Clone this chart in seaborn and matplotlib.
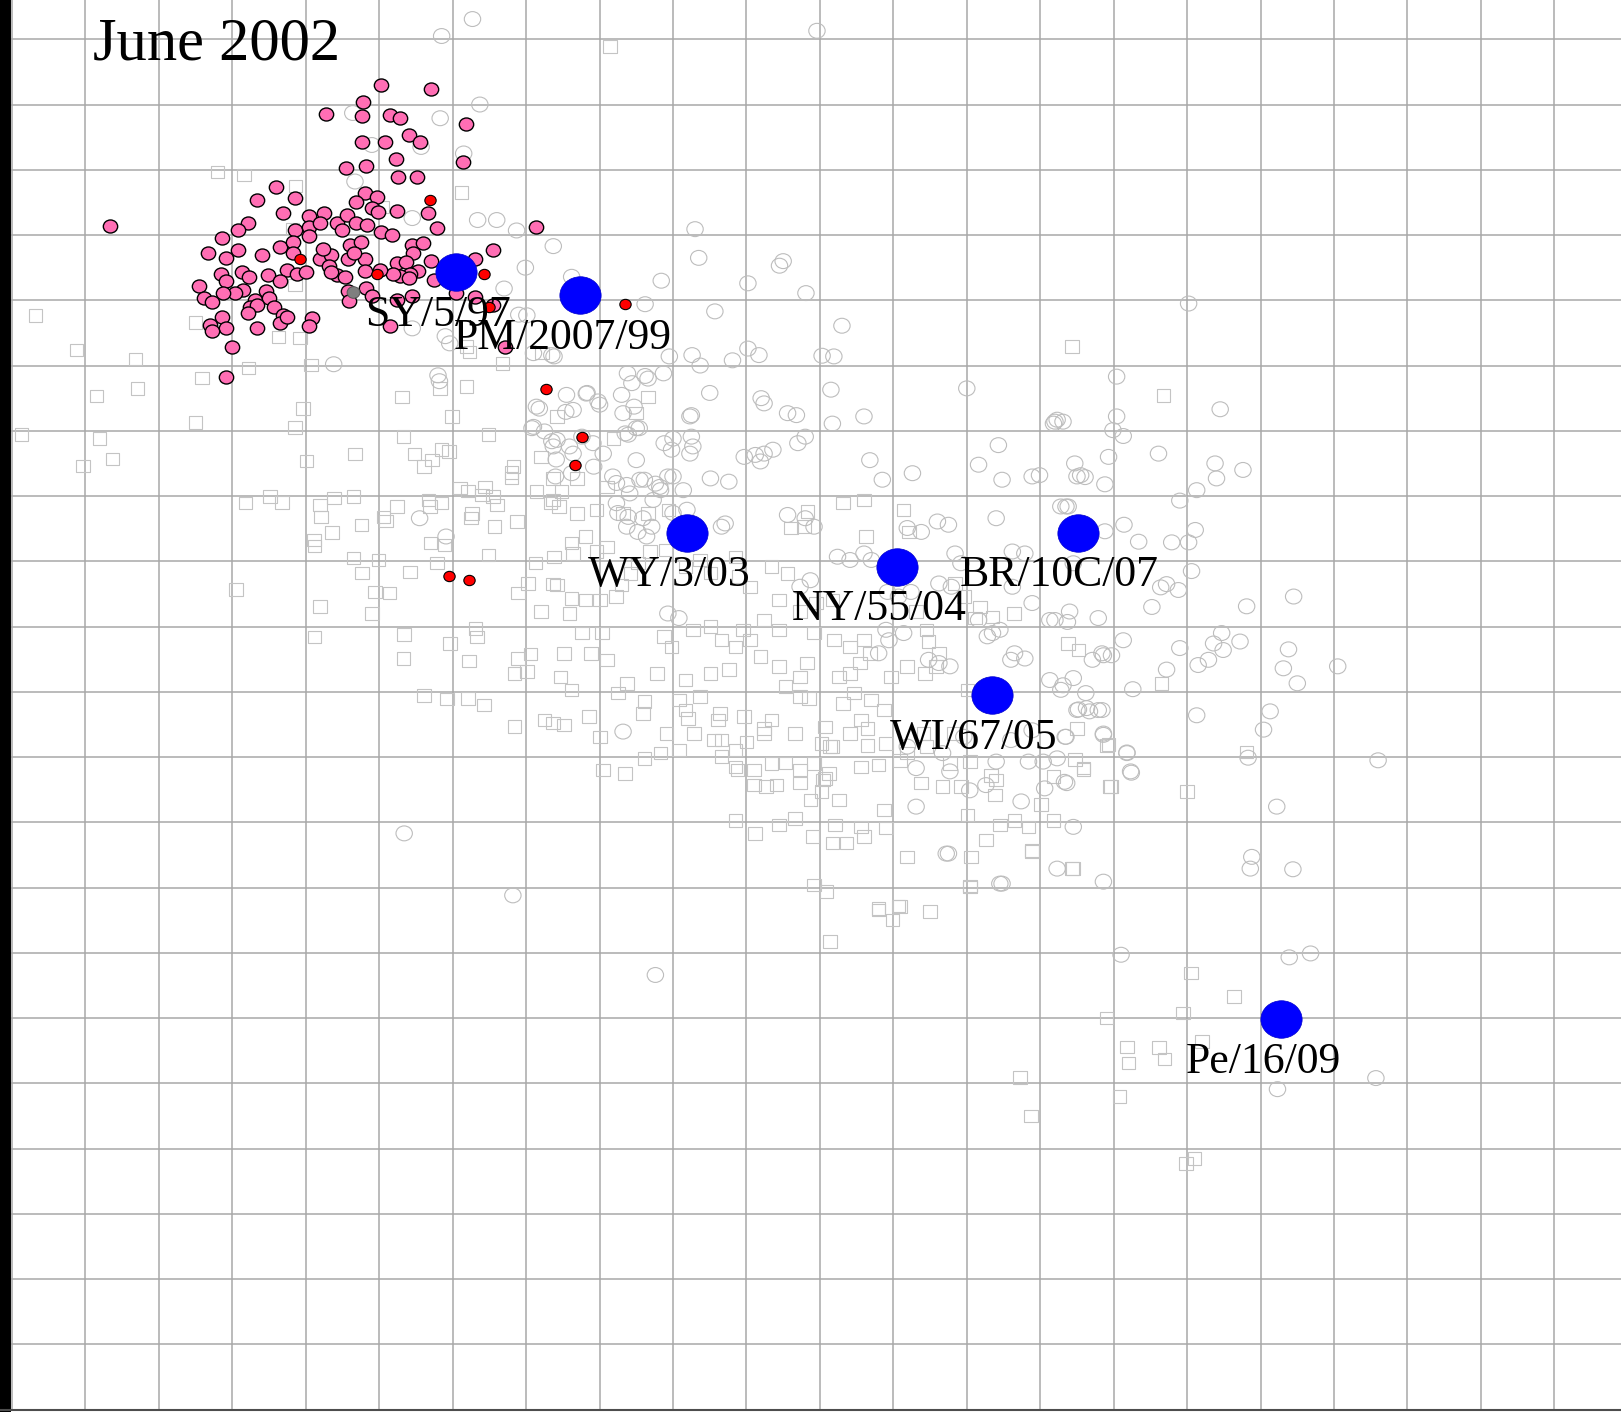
import matplotlib
matplotlib.use("Agg")
import matplotlib.pyplot as plt
from matplotlib.markers import MarkerStyle
from matplotlib.transforms import Affine2D
import numpy as np
import pandas as pd
import seaborn as sns

# map coordinates in antigenic units (one grid cell = one unit), y grows downwards
vaccine_names = ["SY/5/97", "PM/2007/99", "WY/3/03", "NY/55/04", "BR/10C/07", "WI/67/05", "Pe/16/09"]
vaccine_x = [5.05, 6.74, 8.19, 11.05, 13.51, 12.34, 16.28]
vaccine_y = [3.57, 3.92, 7.56, 8.08, 7.56, 10.05, 15.02]

june_antigens = [
    [4.03, 0.70], [4.71, 0.76], [3.78, 0.96], [3.28, 1.15], [3.76, 1.18], [4.15, 1.16], [4.28, 1.20],
    [5.18, 1.30], [4.41, 1.47], [4.56, 1.57], [3.76, 1.57], [4.08, 1.58], [4.23, 1.83], [5.14, 1.88],
    [3.55, 1.98], [3.82, 1.94], [4.26, 2.11], [4.51, 2.11], [2.59, 2.27], [2.34, 2.47], [2.85, 2.43],
    [3.80, 2.36], [3.97, 2.41], [3.69, 2.50], [4.24, 2.63], [4.66, 2.67], [3.90, 2.59], [3.99, 2.64],
    [2.69, 2.67], [2.22, 2.81], [2.08, 2.93], [1.86, 3.04], [3.04, 2.71], [3.25, 2.66], [3.42, 2.82],
    [3.56, 2.69], [3.68, 2.82], [3.83, 2.85], [3.50, 2.93], [2.85, 2.92], [3.04, 2.87], [3.19, 2.82],
    [4.03, 2.96], [4.17, 3.00], [4.78, 2.89], [1.67, 3.27], [1.92, 3.35], [2.08, 3.23], [2.41, 3.31],
    [2.65, 3.19], [2.83, 3.10], [3.04, 3.02], [2.83, 3.28], [3.19, 3.37], [3.35, 3.31], [3.60, 3.15],
    [3.75, 3.10], [3.58, 3.36], [3.81, 3.37], [3.65, 3.28], [3.24, 3.22], [4.44, 3.15], [4.60, 3.12],
    [4.46, 3.28], [4.71, 3.40], [4.24, 3.43], [4.37, 3.41], [4.53, 3.55], [4.42, 3.59], [4.28, 3.63],
    [4.40, 3.66], [4.19, 3.59], [4.01, 3.53], [3.80, 3.55], [5.55, 3.23], [5.30, 3.36], [1.84, 3.59],
    [2.13, 3.56], [2.23, 3.64], [2.48, 3.61], [2.74, 3.54], [2.88, 3.60], [3.01, 3.56], [3.31, 3.48],
    [3.42, 3.61], [3.53, 3.64], [3.35, 3.56], [1.55, 3.78], [1.92, 3.70], [2.15, 3.84], [2.04, 3.89],
    [2.46, 3.86], [2.65, 3.71], [1.87, 3.89], [1.62, 3.96], [1.72, 4.02], [2.31, 3.99], [2.50, 3.97],
    [2.24, 4.10], [2.57, 4.10], [2.33, 4.07], [3.57, 3.86], [3.82, 3.81], [3.90, 3.94], [3.59, 4.01],
    [4.24, 3.99], [4.44, 3.94], [4.74, 3.69], [5.05, 3.89], [5.30, 3.95], [5.55, 4.07], [1.86, 4.25],
    [1.70, 4.38], [1.92, 4.42], [1.72, 4.47], [2.22, 4.20], [2.33, 4.42], [2.69, 4.23], [2.65, 4.35],
    [2.74, 4.26], [3.08, 4.27], [3.04, 4.39], [2.00, 4.72], [4.15, 4.40], [1.92, 5.17], [5.71, 4.71],
    [0.34, 2.86], [6.13, 2.87],
]

outlier_antigens = [
    [2.92, 3.37], [4.69, 2.47], [3.97, 3.59], [5.43, 3.59], [5.49, 4.10], [7.34, 4.06],
    [6.27, 5.36], [6.76, 6.10], [6.66, 6.53], [4.95, 8.23], [5.22, 8.29],
]

grey_antigen = [[3.64, 3.87]]

other_antigens = [
    [5.27, -0.31], [4.85, -0.05], [9.96, -0.13], [5.37, 1.00], [4.83, 1.21], [5.15, 1.75], [3.64, 1.13],
    [3.90, 1.62], [4.57, 1.65], [3.67, 2.18], [4.45, 2.74], [5.34, 2.77], [5.60, 2.77], [5.87, 2.93],
    [6.37, 3.17], [5.99, 3.50], [5.70, 3.82], [5.90, 4.22], [6.62, 3.64], [7.62, 4.06], [7.84, 3.70],
    [8.30, 2.91], [8.35, 3.35], [9.02, 3.74], [9.45, 3.47], [9.50, 3.40], [9.81, 3.89], [8.57, 4.17],
    [10.30, 4.39], [6.38, 4.86], [7.95, 4.86], [8.26, 4.84], [8.37, 5.00], [8.81, 4.92], [9.02, 4.74],
    [9.17, 4.84], [10.03, 4.85], [10.19, 4.86], [7.38, 5.12], [7.62, 5.16], [7.87, 5.12], [7.66, 5.20],
    [4.80, 5.15], [4.82, 5.24], [8.50, 5.42], [9.20, 5.50], [10.15, 5.37], [12.00, 5.35], [14.04, 5.17],
    [6.83, 5.42], [15.02, 4.05], [15.45, 5.67], [14.04, 5.78], [6.14, 5.63], [6.55, 5.45], [6.82, 5.43],
    [6.98, 5.55], [7.30, 5.45], [8.23, 5.78], [8.00, 6.12], [7.50, 5.96], [7.35, 6.04], [7.05, 6.35],
    [6.37, 6.24], [6.10, 5.94], [6.92, 6.55], [7.23, 6.80], [7.73, 7.06], [6.10, 4.81], [6.64, 5.68],
    [7.44, 5.27], [7.50, 6.45], [6.64, 6.35], [7.55, 6.75], [7.82, 6.86], [8.14, 6.91], [8.00, 6.70],
    [7.41, 6.96], [8.23, 6.35], [8.19, 7.21], [7.23, 7.11], [8.00, 7.26], [3.38, 4.98], [4.55, 7.34],
    [4.91, 7.62], [6.01, 4.23], [6.35, 4.84], [6.18, 5.66], [6.08, 5.96], [6.25, 6.01], [6.35, 6.16],
    [6.41, 6.44], [4.96, 4.66], [4.45, 4.43], [4.90, 4.55], [6.54, 5.71], [7.00, 5.60], [7.32, 5.73],
    [7.47, 5.63], [8.25, 5.76], [9.56, 5.73], [9.68, 5.76], [10.60, 5.78], [9.24, 5.58], [6.42, 6.14],
    [6.91, 6.19], [7.39, 6.06], [7.54, 5.96], [7.88, 6.19], [8.25, 6.09], [8.27, 6.24], [8.97, 6.40],
    [9.12, 6.37], [9.24, 6.35], [9.36, 6.29], [9.19, 6.47], [9.70, 6.19], [9.80, 6.09], [10.17, 5.89],
    [10.68, 6.45], [10.85, 6.75], [11.26, 6.65], [12.16, 6.52], [12.43, 6.22], [12.48, 6.75],
    [12.89, 6.70], [12.99, 6.68], [13.47, 6.50], [13.55, 6.68], [13.18, 5.89], [13.23, 5.83],
    [7.18, 6.70], [7.37, 6.83], [7.61, 6.75], [7.76, 6.81], [7.93, 6.70], [7.83, 6.91], [8.51, 6.73],
    [8.76, 6.78], [7.98, 6.29], [6.40, 6.70], [6.62, 6.65], [7.25, 7.26], [7.39, 7.32], [7.59, 7.34],
    [7.71, 7.47], [7.37, 7.47], [7.52, 7.55], [7.64, 7.62], [8.66, 7.47], [8.71, 7.42], [9.56, 7.29],
    [9.80, 7.34], [9.92, 7.47], [11.19, 7.49], [11.38, 7.55], [11.60, 7.39], [11.75, 7.44],
    [12.40, 7.34], [11.84, 7.88], [11.92, 8.03], [13.28, 7.16], [13.35, 7.16], [10.24, 7.93],
    [10.41, 7.98], [10.60, 7.88], [10.70, 7.98], [9.87, 8.29], [9.73, 8.39], [12.62, 7.85],
    [12.79, 7.88], [13.45, 8.03], [12.62, 8.39], [10.92, 8.47], [11.07, 8.54], [11.24, 8.47],
    [11.62, 8.34], [11.79, 8.39], [12.16, 8.90], [12.35, 9.10], [12.45, 9.05], [12.28, 9.15],
    [12.89, 8.64], [13.13, 8.90], [13.37, 8.93], [13.79, 8.87], [13.84, 9.41], [13.71, 9.51],
    [12.65, 9.41], [12.60, 9.51], [12.79, 9.49], [13.13, 9.82], [13.28, 9.97], [13.62, 10.02],
    [13.67, 10.30], [13.84, 10.28], [12.89, 10.59], [12.60, 10.74], [11.96, 10.69], [10.90, 9.05],
    [11.14, 9.10], [10.94, 9.21], [10.80, 9.41], [7.93, 8.80], [8.08, 8.87], [11.48, 9.51],
    [11.62, 9.56], [11.77, 9.61], [7.32, 10.61], [11.67, 10.94], [11.19, 10.84], [6.59, 6.24],
    [6.76, 6.09], [13.20, 5.86], [13.31, 5.86], [13.99, 5.99], [14.13, 6.08], [14.61, 6.35],
    [13.93, 6.40], [13.50, 6.70], [13.61, 6.71], [13.88, 6.82], [15.38, 6.50], [15.40, 6.73],
    [15.76, 6.60], [15.13, 6.91], [14.90, 7.07], [13.38, 7.16], [13.88, 7.54], [14.14, 7.44],
    [14.34, 7.70], [14.79, 7.71], [15.02, 7.71], [15.11, 7.52], [15.06, 8.15], [14.64, 8.40],
    [14.72, 8.35], [14.88, 8.44], [14.52, 8.70], [15.81, 8.69], [16.45, 8.54], [13.40, 8.77],
    [13.20, 8.90], [14.13, 9.21], [14.90, 9.33], [13.86, 9.44], [13.97, 9.44], [15.15, 9.59],
    [15.29, 9.51], [15.36, 9.26], [15.49, 9.36], [15.47, 9.10], [15.72, 9.23], [14.72, 9.66],
    [14.26, 9.96], [13.45, 9.79], [13.31, 9.90], [13.52, 10.27], [13.63, 10.25], [13.79, 10.28],
    [15.13, 10.36], [16.13, 10.30], [16.04, 10.58], [16.31, 9.64], [16.38, 9.35], [16.50, 9.87],
    [17.05, 9.61], [14.18, 10.93], [14.24, 11.24], [15.83, 11.01], [17.60, 11.05], [13.36, 11.40],
    [13.86, 10.66], [13.34, 10.69], [16.22, 11.76], [11.31, 11.17], [11.77, 11.22], [11.31, 11.76],
    [11.72, 12.48], [12.04, 11.51], [12.26, 11.43], [12.74, 11.68], [13.06, 11.48], [13.33, 11.38],
    [13.45, 12.07], [13.23, 12.71], [12.48, 12.94], [13.86, 12.91], [14.10, 14.03], [7.76, 14.34],
    [14.23, 11.22], [14.18, 10.94], [13.86, 10.64], [13.50, 10.28], [13.04, 11.07], [13.23, 11.02],
    [12.84, 11.07], [12.40, 11.07], [13.35, 10.69], [11.75, 12.48], [12.45, 12.94], [15.88, 12.53],
    [15.86, 12.71], [16.44, 12.72], [16.39, 14.07], [16.68, 14.01], [16.23, 16.09], [17.57, 15.92],
    [4.34, 12.17], [5.82, 13.12],
]

other_sera = [
    [1.80, 2.03], [2.16, 2.08], [2.86, 2.25], [2.82, 2.91], [4.04, 2.57], [5.12, 2.35], [2.63, 4.56],
    [2.92, 4.58], [2.85, 3.77], [7.14, 0.11], [6.22, 4.81], [13.43, 4.71], [14.68, 5.46],
    [-0.68, 4.23], [-0.12, 4.76], [0.68, 4.90], [0.15, 5.47], [0.71, 5.35], [-0.87, 6.06], [0.19, 6.12],
    [0.37, 6.43], [-0.03, 6.54], [1.50, 5.87], [1.59, 5.19], [1.50, 4.34], [2.22, 5.04], [2.96, 5.66],
    [2.85, 5.95], [3.07, 4.99], [3.01, 6.46], [3.67, 6.36], [4.31, 5.48], [4.99, 5.78], [4.33, 6.09],
    [4.48, 6.36], [4.72, 6.45], [4.61, 6.55], [4.95, 6.32], [5.49, 6.06], [5.68, 4.97], [5.23, 4.79],
    [4.83, 5.35], [5.80, 6.64], [5.80, 6.72], [6.20, 6.40], [2.51, 7.01], [2.18, 7.11], [2.68, 7.10],
    [3.19, 7.14], [3.38, 7.03], [3.21, 7.32], [3.36, 7.56], [3.11, 7.67], [3.12, 7.77], [3.76, 7.44],
    [4.09, 7.38], [4.67, 7.06], [4.70, 7.72], [4.89, 7.75], [5.25, 7.34], [5.55, 7.01], [5.57, 7.47],
    [5.88, 7.39], [5.49, 7.90], [4.79, 8.03], [4.42, 8.16], [3.65, 7.95], [3.99, 7.98], [3.77, 8.18],
    [3.94, 8.47], [4.14, 8.49], [3.90, 8.80], [3.19, 8.69], [2.05, 8.43], [3.12, 9.16], [4.34, 9.12],
    [4.33, 9.49], [4.96, 9.26], [5.31, 9.03], [5.33, 9.16], [5.22, 9.53], [4.61, 10.06], [4.92, 10.11],
    [5.21, 10.10], [5.43, 10.20], [5.89, 9.49], [5.84, 9.72], [6.01, 9.69], [6.25, 10.43], [5.84, 10.53],
    [6.20, 8.77], [5.89, 8.49], [6.03, 8.34], [6.13, 8.03], [6.33, 7.11], [6.38, 7.93], [5.21, 6.92],
    [5.40, 6.98], [6.37, 8.35], [6.06, 9.42], [6.37, 6.73], [5.44, 6.86], [4.85, 6.29], [5.19, 5.32],
    [5.19, 4.71], [6.42, 5.78], [5.83, 6.55], [6.14, 6.93], [6.48, 6.93], [6.69, 6.73], [7.10, 6.86],
    [5.10, 6.88], [4.69, 7.16], [4.85, 7.11], [4.24, 7.16], [3.65, 7.01], [4.06, 7.32], [5.26, 7.27],
    [5.60, 7.14], [6.69, 7.27], [6.96, 7.21], [7.32, 7.27], [7.66, 7.27], [7.94, 7.21], [7.19, 6.12],
    [7.50, 5.73], [7.66, 5.48], [6.37, 7.06], [6.45, 7.16], [6.62, 7.72], [6.64, 7.88], [6.81, 7.62],
    [6.96, 7.85], [7.10, 7.78], [6.42, 8.36], [6.62, 8.57], [6.59, 8.80], [6.81, 8.59], [7.01, 8.59],
    [7.22, 8.54], [7.30, 8.36], [7.42, 8.19], [7.52, 8.03], [7.69, 7.85], [7.90, 7.83], [8.17, 8.08],
    [8.37, 7.98], [8.51, 8.18], [8.85, 7.93], [8.90, 8.23], [9.05, 8.39], [9.34, 8.08], [9.56, 8.19],
    [9.44, 8.59], [9.73, 8.77], [9.95, 8.64], [10.17, 8.59], [9.78, 7.47], [9.61, 7.49], [9.83, 7.24],
    [10.31, 7.11], [10.60, 7.06], [10.63, 7.62], [11.14, 7.21], [11.21, 7.55], [11.84, 8.34],
    [11.96, 8.54], [12.18, 8.70], [12.11, 8.87], [12.35, 8.85], [12.64, 8.80], [11.31, 8.77],
    [11.45, 9.05], [11.48, 9.23], [11.62, 9.41], [11.58, 9.61], [11.43, 9.72], [11.19, 9.61],
    [10.97, 9.77], [10.68, 9.41], [10.55, 9.56], [10.41, 9.72], [10.41, 9.31], [10.60, 9.21],
    [10.19, 9.21], [9.92, 9.10], [9.82, 9.56], [9.73, 9.77], [9.53, 9.92], [9.44, 9.61], [9.19, 9.46],
    [9.05, 9.21], [8.85, 9.31], [8.76, 9.66], [8.51, 9.72], [8.37, 10.07], [8.17, 9.82], [8.08, 10.13],
    [7.78, 9.72], [7.61, 10.15], [7.59, 10.33], [7.25, 10.02], [7.10, 9.51], [6.88, 9.41], [7.03, 9.10],
    [6.76, 9.10], [6.52, 9.41], [6.47, 9.77], [6.62, 9.97], [6.37, 10.48], [6.52, 10.51], [6.86, 10.38],
    [7.01, 10.69], [7.37, 9.87], [7.88, 9.15], [7.98, 9.31], [8.27, 9.05], [8.51, 9.00], [8.66, 9.21],
    [8.95, 9.05], [9.24, 8.90], [9.44, 9.05], [9.73, 10.07], [9.85, 10.10], [10.26, 9.77],
    [10.31, 10.18], [10.46, 10.02], [10.70, 10.13], [10.87, 10.28], [10.65, 10.56], [10.41, 10.64],
    [10.17, 10.84], [10.02, 10.79], [9.92, 11.10], [9.73, 11.20], [10.07, 11.33], [10.02, 11.53],
    [9.87, 11.66], [9.53, 11.09], [9.34, 11.10], [9.10, 11.20], [8.85, 11.15], [8.66, 10.99],
    [8.56, 10.74], [8.29, 10.64], [8.08, 10.89], [7.83, 10.94], [7.61, 11.02], [7.35, 11.25],
    [7.05, 11.20], [8.85, 10.89], [9.24, 10.64], [9.34, 10.43], [8.97, 10.38], [8.61, 10.43],
    [8.17, 10.28], [12.01, 9.97], [11.82, 10.64], [11.41, 10.64], [11.19, 10.94], [11.45, 10.84],
    [11.77, 11.10], [11.92, 11.45], [12.40, 11.35], [13.18, 11.30], [13.47, 11.04], [7.91, 10.64],
    [8.20, 10.41], [8.64, 10.33], [8.66, 10.74], [9.00, 10.77], [9.24, 10.56], [9.66, 10.64],
    [10.07, 10.54], [10.14, 10.84], [10.56, 10.43], [10.65, 10.82], [10.90, 10.79], [11.09, 11.05],
    [10.80, 11.12], [10.56, 11.15], [10.12, 11.25], [10.04, 11.35], [9.73, 11.40], [9.41, 11.43],
    [9.27, 11.45], [9.10, 11.43], [8.88, 11.20], [10.26, 11.66], [10.87, 11.81], [10.56, 12.07],
    [10.21, 12.04], [9.90, 12.22], [10.17, 12.32], [10.36, 12.32], [10.60, 12.22], [10.90, 12.09],
    [9.66, 11.94], [9.44, 12.04], [9.12, 12.17], [8.85, 11.97], [11.19, 12.53], [12.06, 12.53],
    [12.26, 12.27], [12.45, 12.04], [12.65, 11.97], [12.84, 12.07], [13.18, 11.97], [12.89, 12.43],
    [13.45, 12.71], [12.01, 11.89], [12.04, 12.99], [11.38, 11.40], [11.67, 11.45], [12.04, 11.07],
    [12.33, 11.28], [12.38, 11.58], [13.01, 11.73], [13.59, 11.17], [13.96, 11.45], [15.00, 11.53],
    [13.91, 10.82], [13.50, 10.56], [9.92, 12.96], [10.09, 13.06], [10.80, 13.32], [11.09, 13.29],
    [10.99, 13.50], [11.50, 13.37], [10.14, 13.83], [15.05, 14.31], [12.89, 12.45], [13.43, 12.71],
    [12.04, 12.98], [10.80, 13.34], [11.07, 13.28], [15.64, 14.67], [14.94, 14.92], [13.90, 15.00],
    [14.18, 15.44], [14.62, 15.45], [15.20, 15.36], [14.20, 15.69], [14.69, 15.63], [12.72, 15.91],
    [14.08, 16.20], [12.87, 16.50], [14.98, 17.23], [15.10, 17.15], [13.38, 9.26], [13.52, 9.36],
    [14.65, 9.87], [13.93, 10.81], [13.59, 11.19], [13.95, 11.45], [15.81, 10.92],
]

title = "June 2002"


def to_frame(points):
    return pd.DataFrame(points, columns=["x", "y"])


sns.set_style("white")
plt.rcParams["font.family"] = ["Liberation Serif", "DejaVu Serif"]
plt.rcParams["text.color"] = "black"

fig = plt.figure(figsize=(16.21, 14.12), dpi=100)
ax = fig.add_axes([0, 2 / 1412, 1, 1410 / 1412])

# the original bitmap is slightly stretched horizontally
stretch = Affine2D().scale(1.1, 1.0)
ring = MarkerStyle("o", transform=stretch)
box = MarkerStyle("s", transform=stretch)

sns.scatterplot(data=to_frame(other_sera), x="x", y="y", marker=box, s=80,
                color="#c4c4c4", facecolor="none", edgecolor="#c4c4c4",
                linewidth=0.8, legend=False, zorder=2, ax=ax)
sns.scatterplot(data=to_frame(other_antigens), x="x", y="y", marker=ring, s=115,
                color="#bdbdbd", facecolor="none", edgecolor="#bdbdbd",
                linewidth=0.8, legend=False, zorder=3, ax=ax)
sns.scatterplot(data=to_frame(june_antigens), x="x", y="y", marker=ring, s=88,
                color="#ff6eb4", edgecolor="black", linewidth=1.0,
                legend=False, zorder=4, ax=ax)
sns.scatterplot(data=to_frame(outlier_antigens), x="x", y="y", marker=ring, s=55,
                color="#ff0000", edgecolor="black", linewidth=0.8,
                legend=False, zorder=5, ax=ax)
sns.scatterplot(data=to_frame(grey_antigen), x="x", y="y", marker=ring, s=70,
                color="#7f7f7f", edgecolor="#555555", linewidth=0.7,
                legend=False, zorder=5, ax=ax)

vaccines = pd.DataFrame({"name": vaccine_names, "x": vaccine_x, "y": vaccine_y})
sns.scatterplot(data=vaccines, x="x", y="y", marker=ring, s=730,
                color="#0000ff", edgecolor="#0000cc", linewidth=0.5,
                legend=False, zorder=6, ax=ax)

for _, row in vaccines.iterrows():
    ax.annotate(row["name"], (row["x"], row["y"]), xytext=(-13, -38.5),
                textcoords="offset points", ha="center", va="baseline",
                fontsize=31.5, color="black", zorder=8)

ax.set_xlim(-1.163, 20.907)
ax.set_ylim(21.007, -0.602)
ax.set_xticks(np.arange(-1, 21))
ax.set_yticks(np.arange(0, 21))
ax.grid(True, color="#a8a8a8", linewidth=1.1)
ax.set_axisbelow(True)
ax.tick_params(length=0, labelbottom=False, labelleft=False)
ax.set_xlabel("")
ax.set_ylabel("")

ax.spines["top"].set_visible(False)
ax.spines["right"].set_visible(False)
ax.spines["left"].set_color("black")
ax.spines["left"].set_linewidth(15.8)
ax.spines["bottom"].set_color("#4d4d4d")
ax.spines["bottom"].set_linewidth(1.5)

fig.text(93 / 1621, 1 - 60 / 1412, title, fontsize=43.7, ha="left",
         va="baseline", color="black")

fig.savefig("out.png", dpi=100)
